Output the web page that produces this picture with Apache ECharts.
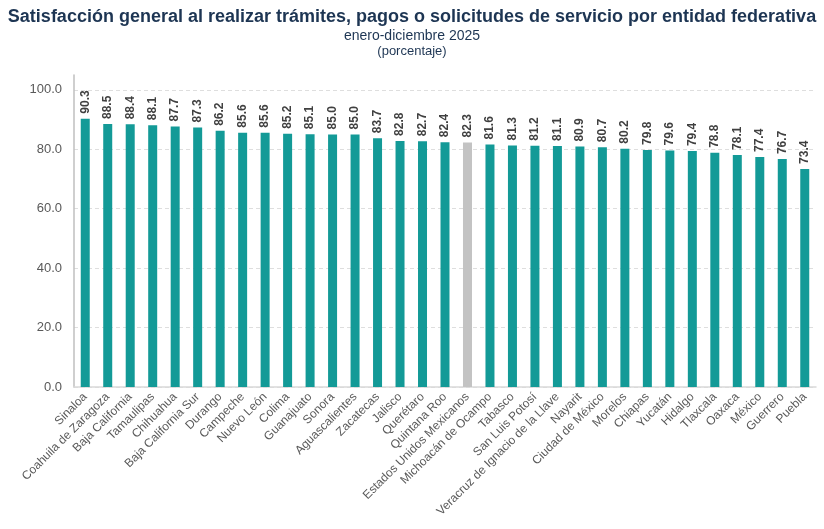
<!DOCTYPE html>
<html>
<head>
<meta charset="utf-8">
<script src="https://cdn.jsdelivr.net/npm/echarts@6/dist/echarts.min.js"></script>
<style>
  html, body { margin: 0; padding: 0; background: #fff; }
  #chart { width: 824px; height: 529px; }
</style>
</head>
<body>
<div id="chart"></div>
<script>
const entidades = [
    'Sinaloa', 'Coahuila de Zaragoza', 'Baja California', 'Tamaulipas', 'Chihuahua',
    'Baja California Sur', 'Durango', 'Campeche', 'Nuevo León', 'Colima',
    'Guanajuato', 'Sonora', 'Aguascalientes', 'Zacatecas', 'Jalisco',
    'Querétaro', 'Quintana Roo', 'Estados Unidos Mexicanos', 'Michoacán de Ocampo', 'Tabasco',
    'San Luis Potosí', 'Veracruz de Ignacio de la Llave', 'Nayarit', 'Ciudad de México', 'Morelos',
    'Chiapas', 'Yucatán', 'Hidalgo', 'Tlaxcala', 'Oaxaca',
    'México', 'Guerrero', 'Puebla'
];
const satisfaccion = [
    90.3, 88.5, 88.4, 88.1, 87.7,
    87.3, 86.2, 85.6, 85.6, 85.2,
    85.1, 85.0, 85.0, 83.7, 82.8,
    82.7, 82.4, 82.3, 81.6, 81.3,
    81.2, 81.1, 80.9, 80.7, 80.2,
    79.8, 79.6, 79.4, 78.8, 78.1,
    77.4, 76.7, 73.4
];
const nacional = 'Estados Unidos Mexicanos';

const teal = '#139a97';
const gris = '#c3c3c3';
const fuente = '"Liberation Sans", Arial, sans-serif';

const chart = echarts.init( document.getElementById( 'chart' ) );

chart.setOption( {
    animation: false,
    title: [
        {
            text: 'Satisfacción general al realizar trámites, pagos o solicitudes de servicio por entidad federativa',
            left: 'center', top: 3,
            textStyle: { fontFamily: fuente, fontSize: 18, fontWeight: 'bold', color: '#1d3553' }
        },
        {
            text: 'enero-diciembre 2025',
            left: 'center', top: 24,
            textStyle: { fontFamily: fuente, fontSize: 14, fontWeight: 'normal', color: '#1d3553' }
        },
        {
            text: '(porcentaje)',
            left: 'center', top: 40,
            textStyle: { fontFamily: fuente, fontSize: 13, fontWeight: 'normal', color: '#1d3553' }
        }
    ],
    grid: { left: 74, right: 8, top: 75, bottom: 142 },
    xAxis: {
        type: 'category',
        data: entidades,
        axisLine: { lineStyle: { color: '#d9d9d9', width: 1.5 } },
        axisTick: { show: false },
        axisLabel: {
            interval: 0, rotate: 45, margin: 8,
            fontFamily: fuente, fontSize: 12, color: '#595959'
        }
    },
    yAxis: {
        type: 'value',
        min: 0, max: 105, interval: 20,
        axisLine: { show: true, lineStyle: { color: '#bfbfbf', width: 1.5 } },
        axisTick: { show: false },
        axisLabel: {
            showMaxLabel: false, margin: 12,
            formatter: v => v.toFixed( 1 ),
            fontFamily: fuente, fontSize: 13, color: '#595959'
        },
        splitLine: {
            showMaxLine: false,
            lineStyle: { color: '#dedede', type: [ 4, 3 ] }
        }
    },
    series: [ {
        type: 'bar',
        barWidth: 9,
        data: satisfaccion.map( ( v, i ) => ( {
            value: v,
            itemStyle: { color: entidades[i] === nacional ? gris : teal }
        } ) ),
        label: {
            show: true,
            position: 'top',
            rotate: 90,
            align: 'left',
            verticalAlign: 'middle',
            distance: 5,
            formatter: p => p.value.toFixed( 1 ),
            fontFamily: fuente, fontSize: 12, fontWeight: 'bold', color: '#404040'
        }
    } ]
} );
</script>
</body>
</html>
